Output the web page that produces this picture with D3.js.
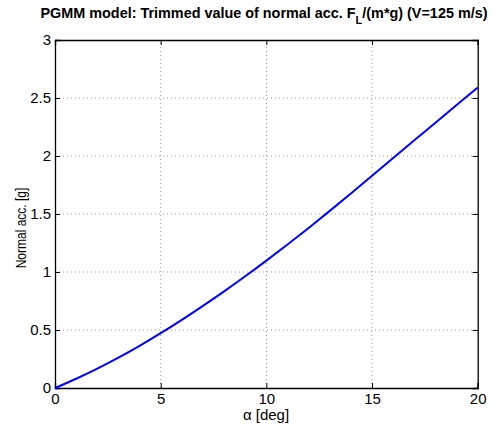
<!DOCTYPE html>
<html><head><meta charset="utf-8">
<script src="https://cdn.jsdelivr.net/npm/d3@7"></script>
<style>body{margin:0;background:#fff}svg{display:block}text{font-family:Arial,"Liberation Sans",Helvetica,sans-serif}</style>
</head><body>
<script>
const alphaDeg = [0,1,2,3,4,5,6,7,8,9,10,11,12,13,14,15,16,17,18,19,20];
const normalAcc = [0,0.080,0.167,0.262,0.364,0.473,0.588,0.708,0.833,0.963,1.098,1.237,1.380,1.527,1.677,1.829,1.982,2.135,2.287,2.439,2.590];
const xTicks = [0,5,10,15,20];
const yTicks = [0,0.5,1,1.5,2,2.5,3];

const W=502,H=426;
const m={l:55,r:24.3,t:40,b:38};
const svg=d3.select("body").append("svg").attr("width",W).attr("height",H);
const x=d3.scaleLinear().domain([0,20]).range([m.l,W-m.r]);
const y=d3.scaleLinear().domain([0,3]).range([H-m.b,m.t]);
const fs=15;

// grid
const g=svg.append("g");
g.selectAll(".gx").data(xTicks.slice(1,-1)).join("line")
 .attr("x1",d=>x(d)).attr("x2",d=>x(d)).attr("y1",y(0)).attr("y2",y(3))
 .attr("stroke","#999").attr("stroke-width",1).attr("stroke-dasharray","1,3");
g.selectAll(".gy").data(yTicks.slice(1,-1)).join("line")
 .attr("y1",d=>y(d)).attr("y2",d=>y(d)).attr("x1",x(0)).attr("x2",x(20))
 .attr("stroke","#999").attr("stroke-width",1).attr("stroke-dasharray","1,3");

// axes
const ax=svg.append("g").attr("transform",`translate(0,${y(0)})`)
 .call(d3.axisBottom(x).tickValues(xTicks).tickSize(-5).tickPadding(5).tickFormat(d3.format("d")));
const ay=svg.append("g").attr("transform",`translate(${x(0)},0)`)
 .call(d3.axisLeft(y).tickValues(yTicks).tickSize(-5).tickPadding(4).tickFormat(d=>String(d)));
const at=svg.append("g").attr("transform",`translate(0,${y(3)})`)
 .call(d3.axisTop(x).tickValues(xTicks).tickSize(-5).tickFormat(""));
const ar=svg.append("g").attr("transform",`translate(${x(20)},0)`)
 .call(d3.axisRight(y).tickValues(yTicks).tickSize(-5).tickFormat(""));
[ax,ay,at,ar].forEach(a=>{
  a.selectAll("path").attr("stroke","#000").attr("stroke-width",1.3);
  a.selectAll("line").attr("stroke","#000");
  a.selectAll("text").attr("fill","#000").style("font-size",fs+"px").style("font-family","Arial, 'Liberation Sans', sans-serif");
});

// line
svg.append("path").datum(alphaDeg.map((a,i)=>[a,normalAcc[i]]))
 .attr("fill","none").attr("stroke","#0000ff").attr("stroke-width",2)
 .attr("d",d3.line().x(d=>x(d[0])).y(d=>y(d[1])).curve(d3.curveNatural));

// labels
svg.append("text").attr("x",266).attr("y",420).attr("text-anchor","middle").style("font-size",fs+"px").text("α [deg]");
svg.append("text").attr("transform","translate(26,228) rotate(-90) scale(0.8,1)").attr("text-anchor","middle").style("font-size","15px").text("Normal acc. [g]");
const t=svg.append("text").attr("x",264).attr("y",18).attr("text-anchor","middle").style("font-size","14.4px").style("font-weight","bold");
t.append("tspan").text("PGMM model: Trimmed value of normal acc. F");
t.append("tspan").attr("dy",6).style("font-size","11px").text("L");
t.append("tspan").attr("dy",-6).text("/(m*g) (V=125 m/s)");
</script>
</body></html>
